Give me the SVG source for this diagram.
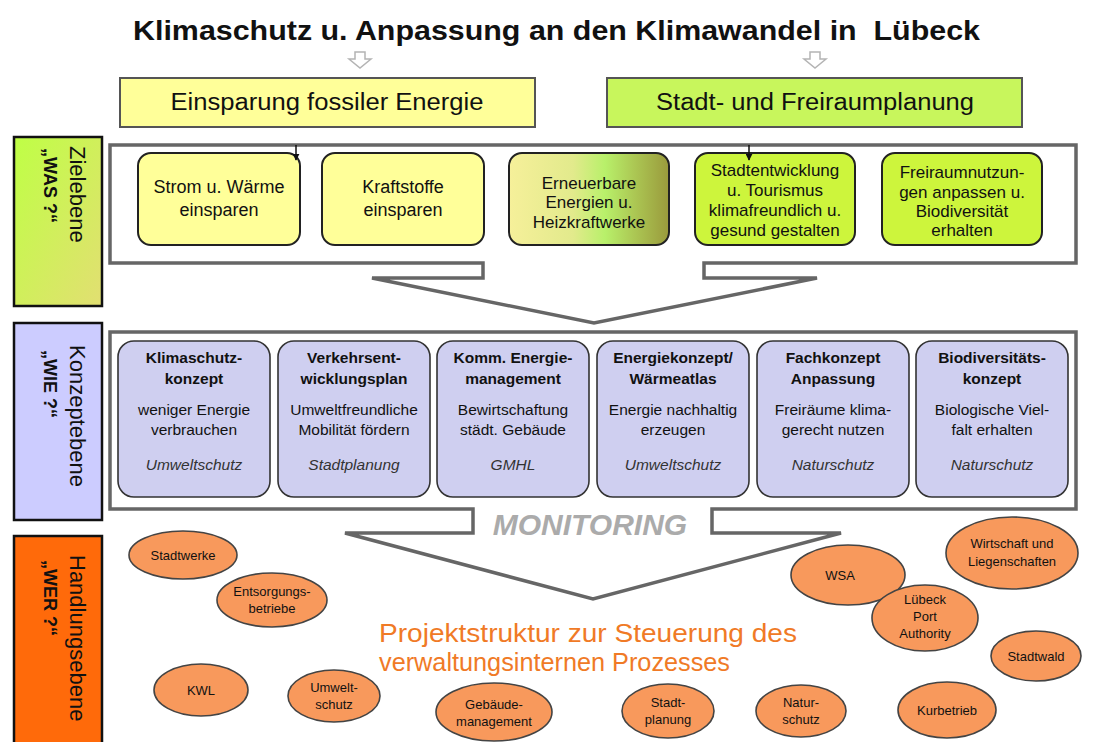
<svg xmlns="http://www.w3.org/2000/svg" width="1108" height="742" viewBox="0 0 1108 742">
<defs>
<linearGradient id="gZiel" x1="0" y1="0" x2="1" y2="1">
<stop offset="0" stop-color="#bfff45"/><stop offset="1" stop-color="#e2df72"/>
</linearGradient>
<linearGradient id="gErn" x1="0" y1="0" x2="1" y2="0">
<stop offset="0" stop-color="#f6f09a"/><stop offset="0.4" stop-color="#e2ea8c"/><stop offset="0.6" stop-color="#b8f06a"/><stop offset="0.78" stop-color="#acc854"/><stop offset="1" stop-color="#9a9a3c"/>
</linearGradient>
<marker id="ah" viewBox="0 0 10 10" refX="9" refY="5" markerWidth="7" markerHeight="7" orient="auto" markerUnits="userSpaceOnUse">
<path d="M0,0 L10,5 L0,10 Z" fill="#111"/>
</marker>
<style>
text{font-family:"Liberation Sans",Arial,sans-serif;fill:#111}
.title{font-size:27px;font-weight:bold}
.band{font-size:23px}
.lbl{font-size:22px}
.lblb{font-size:18px;font-weight:bold}
.t1{font-size:17px;text-anchor:middle}
.t1l{font-size:18px;text-anchor:middle}
.t2b{font-size:15.5px;font-weight:bold;text-anchor:middle}
.t2{font-size:15.5px;text-anchor:middle}
.t2i{font-size:15.5px;font-style:italic;text-anchor:middle;fill:#333}
.e{font-size:13px;text-anchor:middle}
.proj{font-size:25px;fill:#f07a26}
.frame{fill:#fff;stroke:#666;stroke-width:3.5;stroke-linejoin:miter}
.bx1{stroke:#222;stroke-width:2}
.bx2{fill:#cfcff0;stroke:#333;stroke-width:1.6}
.ell{fill:#f8995c;stroke:#444;stroke-width:1.6}
.hollow{fill:#fff;stroke:#b4b4b4;stroke-width:1.5}
.lab{stroke:#111;stroke-width:2.5}
</style>
</defs>
<rect width="1108" height="742" fill="#fff"/>

<g id="title">
<text class="title" x="133" y="40" textLength="847" lengthAdjust="spacingAndGlyphs" xml:space="preserve">Klimaschutz u. Anpassung an den Klimawandel in  Lübeck</text>
</g>

<g id="band-energie">
<rect x="120" y="78" width="415" height="49" fill="#ffff99" stroke="#555" stroke-width="2"/>
<text class="band" x="327" y="110" text-anchor="middle" textLength="313" lengthAdjust="spacingAndGlyphs">Einsparung fossiler Energie</text>
</g>
<g id="band-stadt">
<rect x="607" y="78" width="415" height="49" fill="#c8f65c" stroke="#555" stroke-width="2"/>
<text class="band" x="815" y="110" text-anchor="middle" textLength="318" lengthAdjust="spacingAndGlyphs">Stadt- und Freiraumplanung</text>
</g>

<g id="label-ziel">
<rect class="lab" x="14" y="137" width="88" height="169" fill="url(#gZiel)"/>
<text class="lbl" transform="translate(70,146) rotate(90)">Zielebene</text>
<text class="lblb" transform="translate(44,148) rotate(90)">„WAS ?“</text>
</g>
<g id="label-konzept">
<rect class="lab" x="14" y="323" width="88" height="197" fill="#ccccff"/>
<text class="lbl" transform="translate(70,345) rotate(90)">Konzeptebene</text>
<text class="lblb" transform="translate(44,350) rotate(90)">„WIE ?“</text>
</g>
<g id="label-handlung">
<rect class="lab" x="14" y="536" width="88" height="210" fill="#ff6a0a"/>
<text class="lbl" transform="translate(70,555) rotate(90)">Handlungsebene</text>
<text class="lblb" transform="translate(44,560) rotate(90)">„WER ?“</text>
</g>

<g id="frame-ziel">
<path class="frame" d="M110,145 H1076 V263 H704 V278 H817 L594,323 L372,278 H483 V263 H110 Z"/>
</g>
<g id="frame-konzept">
<path class="frame" d="M110,332 H1076 V509 H712 V533 H841 L593,599 L345,533 H473 V509 H110 Z"/>
<text x="590" y="535" text-anchor="middle" font-size="30" font-weight="bold" font-style="italic" style="fill:#ababab">MONITORING</text>
</g>

<g id="ziel-strom">
<rect class="bx1" x="138" y="153" width="162" height="92" rx="13" fill="#ffff99"/>
<text class="t1l" x="219" y="193">Strom u. Wärme</text>
<text class="t1l" x="219" y="216">einsparen</text>
</g>
<g id="ziel-kraftstoffe">
<rect class="bx1" x="322" y="153" width="162" height="92" rx="13" fill="#ffff99"/>
<text class="t1l" x="403" y="193">Kraftstoffe</text>
<text class="t1l" x="403" y="216">einsparen</text>
</g>
<g id="ziel-erneuerbare">
<rect class="bx1" x="509" y="153" width="160" height="92" rx="13" fill="url(#gErn)"/>
<text class="t1" x="589" y="189">Erneuerbare</text>
<text class="t1" x="589" y="208">Energien u.</text>
<text class="t1" x="589" y="228">Heizkraftwerke</text>
</g>
<g id="ziel-stadtentwicklung">
<rect class="bx1" x="695" y="153" width="160" height="92" rx="13" fill="#cdf53c"/>
<text class="t1" x="775" y="176">Stadtentwicklung</text>
<text class="t1" x="775" y="196">u. Tourismus</text>
<text class="t1" x="775" y="216">klimafreundlich u.</text>
<text class="t1" x="775" y="236">gesund gestalten</text>
</g>
<g id="ziel-freiraum">
<rect class="bx1" x="882" y="153" width="160" height="92" rx="13" fill="#cdf53c"/>
<text class="t1" x="962" y="178">Freiraumnutzun-</text>
<text class="t1" x="962" y="198">gen anpassen u.</text>
<text class="t1" x="962" y="217">Biodiversität</text>
<text class="t1" x="962" y="236">erhalten</text>
</g>

<g id="konzept-klimaschutz">
<rect class="bx2" x="118" y="341" width="152" height="156" rx="16"/>
<text class="t2b" x="194" y="363">Klimaschutz-</text>
<text class="t2b" x="194" y="384">konzept</text>
<text class="t2" x="194" y="415">weniger Energie</text>
<text class="t2" x="194" y="435">verbrauchen</text>
<text class="t2i" x="194" y="470">Umweltschutz</text>
</g>
<g id="konzept-verkehr">
<rect class="bx2" x="278" y="341" width="152" height="156" rx="16"/>
<text class="t2b" x="354" y="363">Verkehrsent-</text>
<text class="t2b" x="354" y="384">wicklungsplan</text>
<text class="t2" x="354" y="415">Umweltfreundliche</text>
<text class="t2" x="354" y="435">Mobilität fördern</text>
<text class="t2i" x="354" y="470">Stadtplanung</text>
</g>
<g id="konzept-energiemanagement">
<rect class="bx2" x="437" y="341" width="152" height="156" rx="16"/>
<text class="t2b" x="513" y="363">Komm. Energie-</text>
<text class="t2b" x="513" y="384">management</text>
<text class="t2" x="513" y="415">Bewirtschaftung</text>
<text class="t2" x="513" y="435">städt. Gebäude</text>
<text class="t2i" x="513" y="470">GMHL</text>
</g>
<g id="konzept-waermeatlas">
<rect class="bx2" x="597" y="341" width="152" height="156" rx="16"/>
<text class="t2b" x="673" y="363">Energiekonzept/</text>
<text class="t2b" x="673" y="384">Wärmeatlas</text>
<text class="t2" x="673" y="415">Energie nachhaltig</text>
<text class="t2" x="673" y="435">erzeugen</text>
<text class="t2i" x="673" y="470">Umweltschutz</text>
</g>
<g id="konzept-anpassung">
<rect class="bx2" x="757" y="341" width="152" height="156" rx="16"/>
<text class="t2b" x="833" y="363">Fachkonzept</text>
<text class="t2b" x="833" y="384">Anpassung</text>
<text class="t2" x="833" y="415">Freiräume klima-</text>
<text class="t2" x="833" y="435">gerecht nutzen</text>
<text class="t2i" x="833" y="470">Naturschutz</text>
</g>
<g id="konzept-biodiversitaet">
<rect class="bx2" x="916" y="341" width="152" height="156" rx="16"/>
<text class="t2b" x="992" y="363">Biodiversitäts-</text>
<text class="t2b" x="992" y="384">konzept</text>
<text class="t2" x="992" y="415">Biologische Viel-</text>
<text class="t2" x="992" y="435">falt erhalten</text>
<text class="t2i" x="992" y="470">Naturschutz</text>
</g>

<g id="projekt-text">
<text class="proj" x="379" y="642" textLength="418" lengthAdjust="spacingAndGlyphs">Projektstruktur zur Steuerung des</text>
<text class="proj" x="379" y="671" textLength="351" lengthAdjust="spacingAndGlyphs">verwaltungsinternen Prozesses</text>
</g>

<g id="akteur-stadtwerke"><ellipse class="ell" cx="183" cy="555" rx="54" ry="24"/><text class="e" x="183" y="560">Stadtwerke</text></g>
<g id="akteur-entsorgung"><ellipse class="ell" cx="272" cy="600" rx="55" ry="27"/><text class="e" x="272" y="596">Entsorgungs-</text><text class="e" x="272" y="613">betriebe</text></g>
<g id="akteur-kwl"><ellipse class="ell" cx="201" cy="690" rx="47" ry="26"/><text class="e" x="201" y="695">KWL</text></g>
<g id="akteur-umweltschutz"><ellipse class="ell" cx="334" cy="696" rx="46" ry="26"/><text class="e" x="334" y="692">Umwelt-</text><text class="e" x="334" y="709">schutz</text></g>
<g id="akteur-gebaeude"><ellipse class="ell" cx="494" cy="712" rx="58" ry="29"/><text class="e" x="494" y="709">Gebäude-</text><text class="e" x="494" y="726">management</text></g>
<g id="akteur-stadtplanung"><ellipse class="ell" cx="668" cy="711" rx="46" ry="27"/><text class="e" x="668" y="707">Stadt-</text><text class="e" x="668" y="724">planung</text></g>
<g id="akteur-naturschutz"><ellipse class="ell" cx="801" cy="711" rx="45" ry="26"/><text class="e" x="801" y="707">Natur-</text><text class="e" x="801" y="724">schutz</text></g>
<g id="akteur-kurbetrieb"><ellipse class="ell" cx="947" cy="710" rx="49" ry="28"/><text class="e" x="947" y="715">Kurbetrieb</text></g>
<g id="akteur-wsa"><ellipse class="ell" cx="848" cy="575" rx="57" ry="30"/><text class="e" x="840" y="580">WSA</text></g>
<g id="akteur-wirtschaft"><ellipse class="ell" cx="1012" cy="553" rx="66" ry="36"/><text class="e" x="1012" y="548">Wirtschaft und</text><text class="e" x="1012" y="566">Liegenschaften</text></g>
<g id="akteur-lpa"><ellipse class="ell" cx="925" cy="618" rx="53" ry="33"/><text class="e" x="925" y="604">Lübeck</text><text class="e" x="925" y="621">Port</text><text class="e" x="925" y="638">Authority</text></g>
<g id="akteur-stadtwald"><ellipse class="ell" cx="1036" cy="656" rx="45" ry="25"/><text class="e" x="1036" y="661">Stadtwald</text></g>

<g id="connectors">
<path class="hollow" d="M355,52 H365 V59 H371 L360,68 L349,59 H355 Z"/>
<path class="hollow" d="M810,52 H820 V59 H826 L815,68 L804,59 H810 Z"/>
<line x1="296" y1="145" x2="296" y2="160" stroke="#111" stroke-width="1.5" marker-end="url(#ah)"/>
<line x1="749" y1="145" x2="749" y2="160" stroke="#111" stroke-width="1.5" marker-end="url(#ah)"/>
</g>
</svg>
